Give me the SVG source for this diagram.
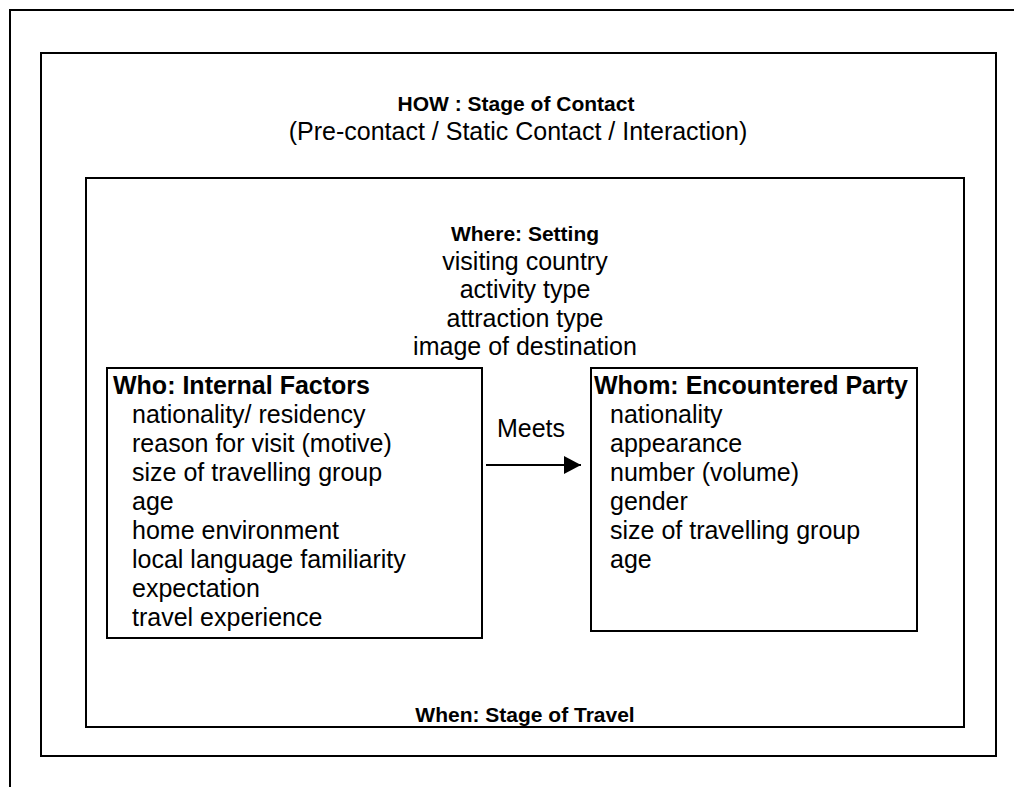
<svg xmlns="http://www.w3.org/2000/svg" width="1014" height="787" viewBox="0 0 1014 787">
  <defs>
    <style>
      .frame { fill: none; stroke: #000; stroke-width: 2; }
      .t { font-family: "Liberation Sans", Arial, sans-serif; font-size: 25px; fill: #000; }
      .b { font-weight: bold; }
      .h { font-family: "Liberation Sans", Arial, sans-serif; font-size: 21px; font-weight: bold; fill: #000; }
      .mid { text-anchor: middle; }
      .edge { stroke: #000; stroke-width: 2; fill: none; }
    </style>
    <marker id="arrow" markerWidth="17" markerHeight="18" refX="17" refY="9" orient="auto" markerUnits="userSpaceOnUse">
      <path d="M0,0 L17,9 L0,18 Z" fill="#000"/>
    </marker>
  </defs>
  <rect width="1014" height="787" fill="#fff"/>

  <!-- page frame, clipped at right and bottom -->
  <path class="frame" d="M10,787 V10 H1014"/>

  <!-- HOW: stage of contact -->
  <g id="how">
    <rect class="frame" x="41" y="53" width="955" height="703"/>
    <text class="h mid" x="516" y="111">HOW : Stage of Contact</text>
    <text class="t mid" x="518" y="140">(Pre-contact / Static Contact / Interaction)</text>
  </g>

  <!-- Where / When: setting and stage of travel -->
  <g id="where">
    <rect class="frame" x="86" y="178" width="878" height="549"/>
    <text class="h mid" x="525" y="241">Where: Setting</text>
    <text class="t mid" x="525" y="270">visiting country</text>
    <text class="t mid" x="525" y="298">activity type</text>
    <text class="t mid" x="525" y="327">attraction type</text>
    <text class="t mid" x="525" y="355">image of destination</text>
    <text class="h mid" x="525" y="722">When: Stage of Travel</text>
  </g>

  <!-- Who: internal factors -->
  <g id="who">
    <rect class="frame" x="107" y="368" width="375" height="270"/>
    <text class="t b" x="113" y="394">Who: Internal Factors</text>
    <text class="t" x="132" y="423">nationality/ residency</text>
    <text class="t" x="132" y="452">reason for visit (motive)</text>
    <text class="t" x="132" y="481">size of travelling group</text>
    <text class="t" x="132" y="510">age</text>
    <text class="t" x="132" y="539">home environment</text>
    <text class="t" x="132" y="568">local language familiarity</text>
    <text class="t" x="132" y="597">expectation</text>
    <text class="t" x="132" y="626">travel experience</text>
  </g>

  <!-- Whom: encountered party -->
  <g id="whom">
    <rect class="frame" x="591" y="368" width="326" height="263"/>
    <text class="t b" x="594" y="394">Whom: Encountered Party</text>
    <text class="t" x="610" y="423">nationality</text>
    <text class="t" x="610" y="452">appearance</text>
    <text class="t" x="610" y="481">number (volume)</text>
    <text class="t" x="610" y="510">gender</text>
    <text class="t" x="610" y="539">size of travelling group</text>
    <text class="t" x="610" y="568">age</text>
  </g>

  <!-- connectors -->
  <g id="connectors">
    <line class="edge" x1="486" y1="465" x2="581" y2="465" marker-end="url(#arrow)"/>
    <text class="t mid" x="531" y="437">Meets</text>
  </g>
</svg>
